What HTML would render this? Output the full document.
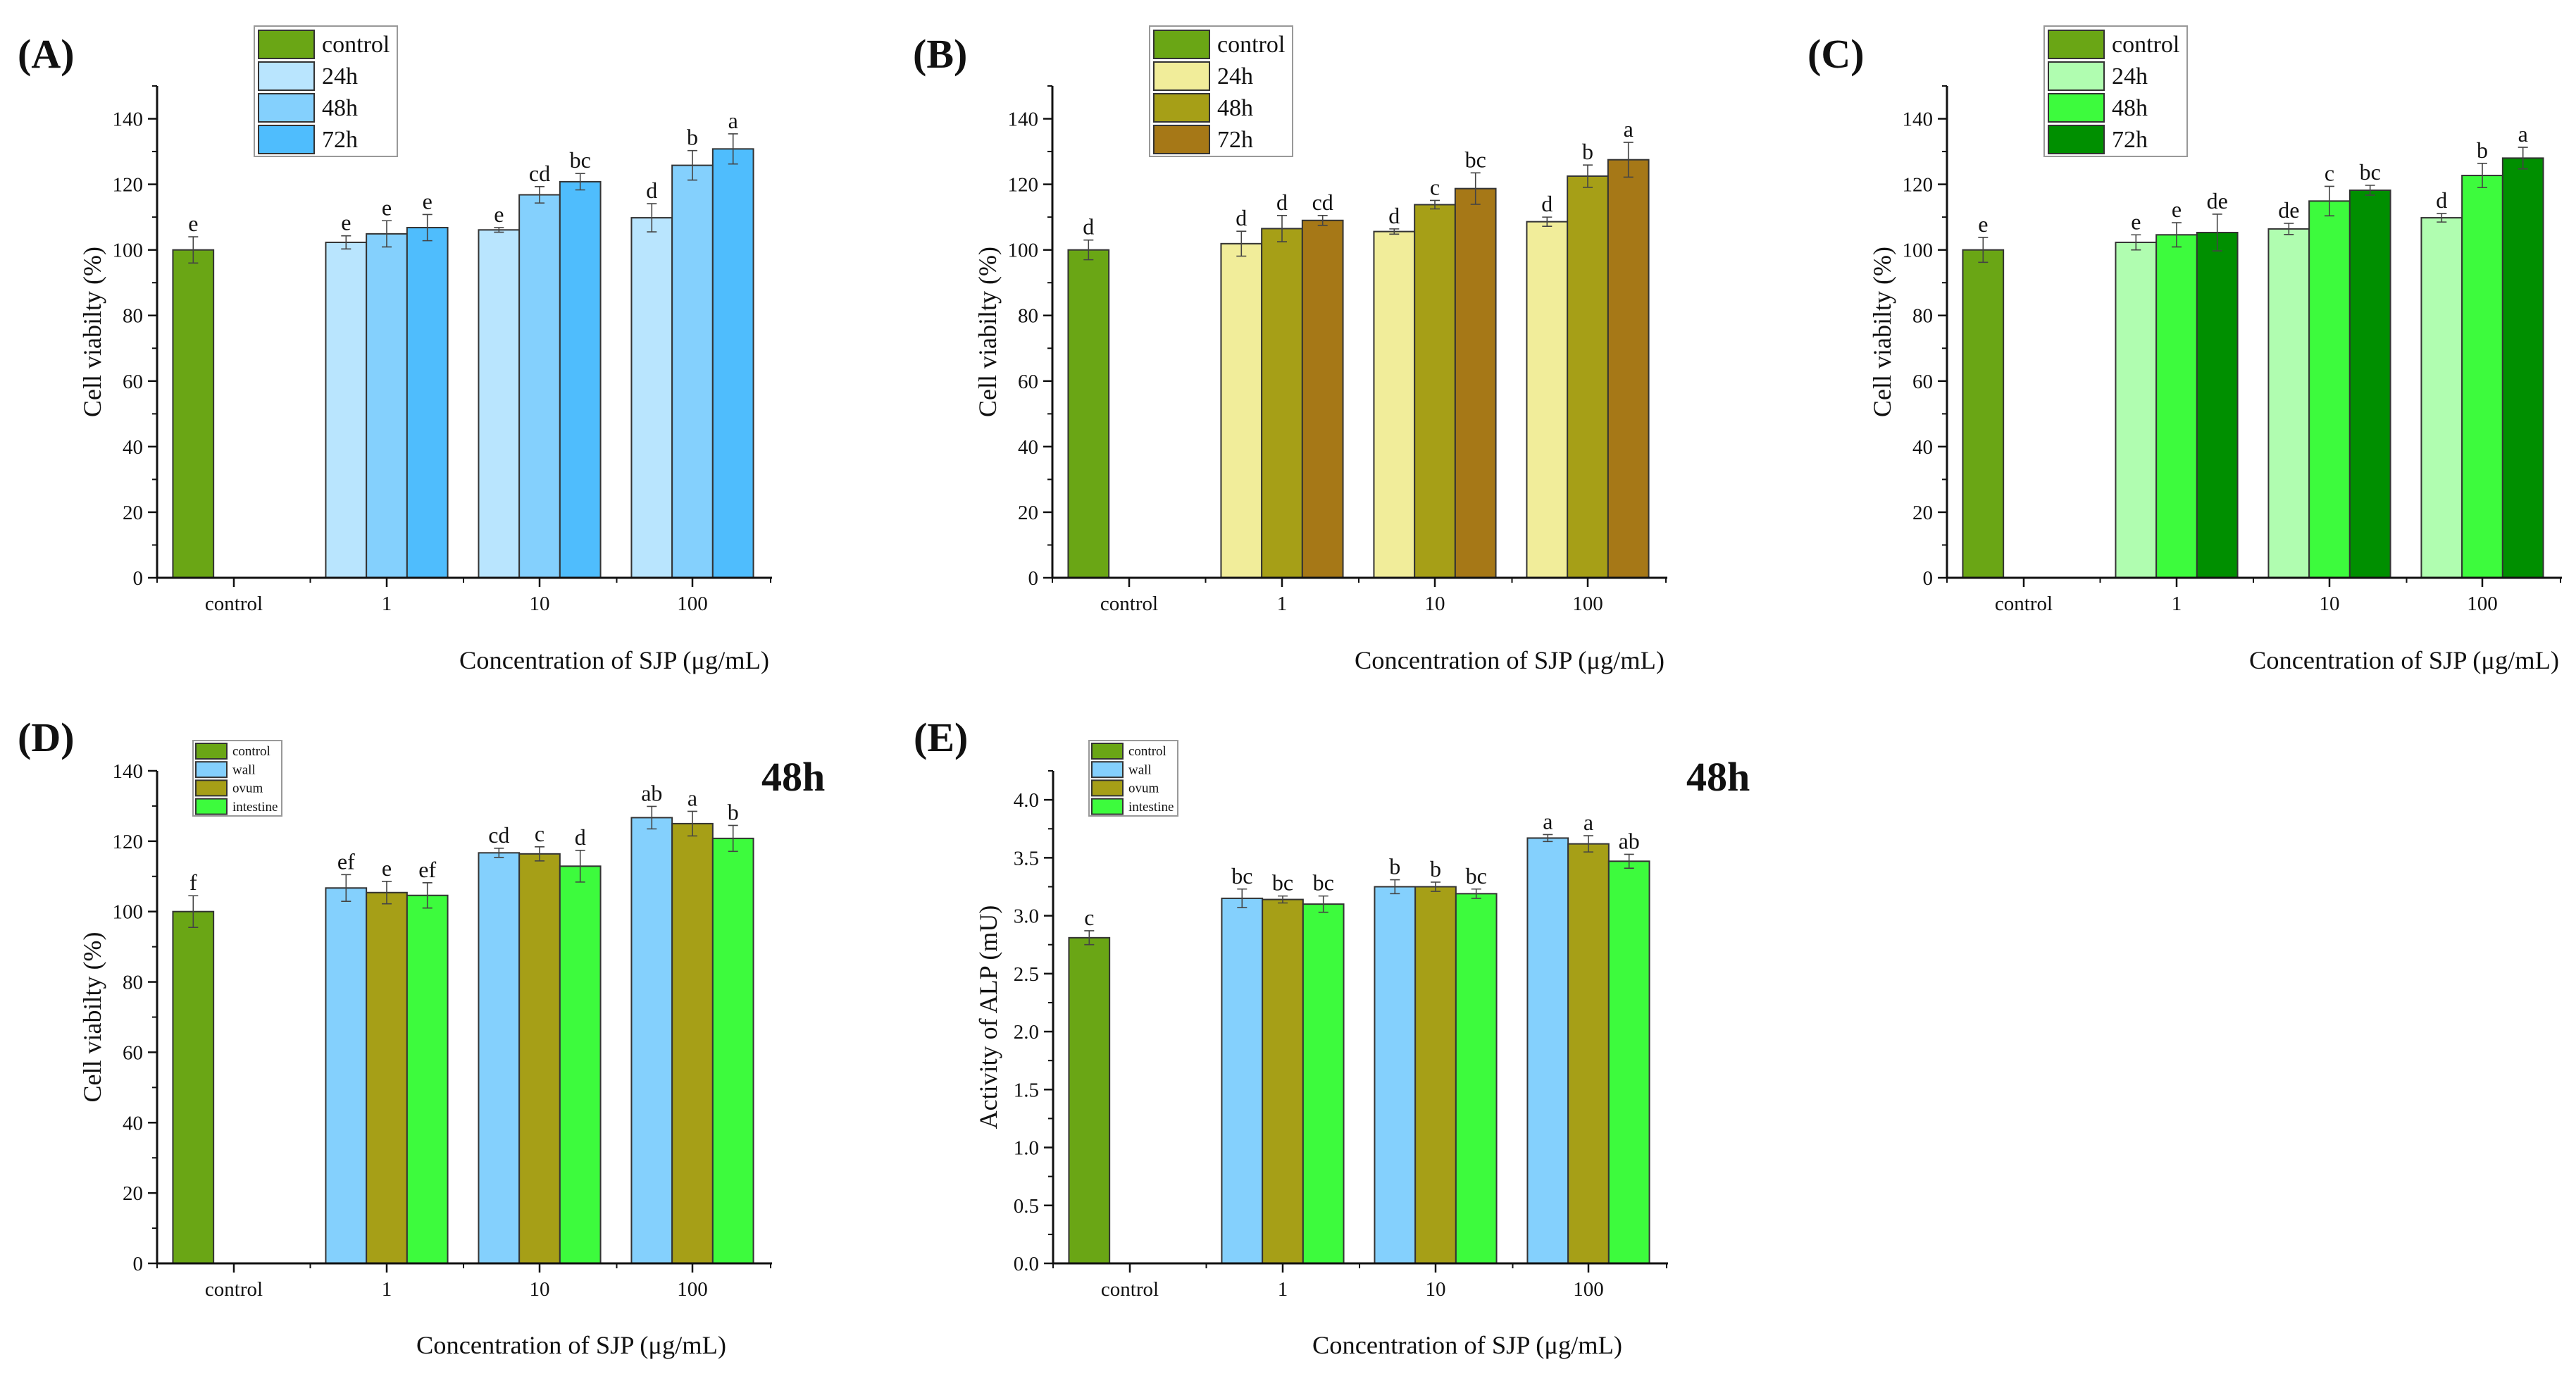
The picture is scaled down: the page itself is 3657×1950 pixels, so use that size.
<!DOCTYPE html>
<html><head><meta charset="utf-8">
<style>
html,body{margin:0;padding:0;background:#fff;}
svg{display:block;}
text{font-family:"Liberation Serif",serif;fill:#111;}
</style></head>
<body>
<svg id="fig" width="3657" height="1950" viewBox="0 0 3657 1950" xmlns="http://www.w3.org/2000/svg"></svg>
<script>
// ---- data ----
const categories = ["control","1","10","100"];
const controlA = 100, controlAErr = 4.0, controlALetter = "e";
const a24 = [102.3,106.1,109.8], a24Err=[2.0,0.7,4.3], a24L=["e","e","d"];
const a48 = [104.9,116.8,125.8], a48Err=[4.0,2.5,4.5], a48L=["e","cd","b"];
const a72 = [106.8,120.8,130.8], a72Err=[4.0,2.5,4.6], a72L=["e","bc","a"];

const controlB = 100, controlBErr = 3.0, controlBLetter = "d";
const b24 = [101.9,105.6,108.6], b24Err=[3.8,0.8,1.4], b24L=["d","d","d"];
const b48 = [106.5,113.8,122.5], b48Err=[4.0,1.3,3.4], b48L=["d","c","b"];
const b72 = [109.0,118.7,127.5], b72Err=[1.5,4.8,5.3], b72L=["cd","bc","a"];

const controlC = 100, controlCErr = 3.8, controlCLetter = "e";
const c24 = [102.3,106.4,109.8], c24Err=[2.3,1.7,1.3], c24L=["e","de","d"];
const c48 = [104.6,114.9,122.7], c48Err=[3.7,4.5,3.7], c48L=["e","c","b"];
const c72 = [105.3,118.2,128.0], c72Err=[5.6,1.5,3.3], c72L=["de","bc","a"];

const controlD = 100, controlDErr = 4.5, controlDLetter = "f";
const dWall = [106.7,116.7,126.7], dWallErr=[3.8,1.3,3.2], dWallL=["ef","cd","ab"];
const dOvum = [105.4,116.4,125.0], dOvumErr=[3.2,2.0,3.5], dOvumL=["e","c","a"];
const dInt  = [104.6,112.9,120.8], dIntErr=[3.6,4.5,3.7], dIntL=["ef","d","b"];

const controlE = 2.81, controlEErr = 0.06, controlELetter = "c";
const eWall = [3.15,3.25,3.67], eWallErr=[0.08,0.06,0.03], eWallL=["bc","b","a"];
const eOvum = [3.14,3.25,3.62], eOvumErr=[0.03,0.04,0.07], eOvumL=["bc","b","a"];
const eInt  = [3.10,3.19,3.47], eIntErr=[0.07,0.04,0.06], eIntL=["bc","bc","ab"];

const viabTicks = [0,20,40,60,80,100,120,140];
const alpTicks = [0,0.5,1.0,1.5,2.0,2.5,3.0,3.5,4.0];
const legendTime = ["control","24h","48h","72h"];
const legendTissue = ["control","wall","ovum","intestine"];

// ---- drawing ----
const NS="http://www.w3.org/2000/svg";
const svg=document.getElementById('fig');
function mk(tag,attrs,parent){const e=document.createElementNS(NS,tag);for(const k in attrs)e.setAttribute(k,attrs[k]);(parent||svg).appendChild(e);return e;}
const GREEN="#6aa615";

function panel(cfg){
  const g=mk('g',{});
  
  
  const ax=cfg.ax, y0=cfg.y0, unit=(cfg.y0-cfg.yTop)/cfg.vmax;
  const Y=v=>y0-v*unit;
  const cx=k=>ax+109+217*k;
  const bw=57.7;
  // panel label
  const lab=mk('text',{x:ax-198,y:cfg.labelY,'font-size':58,'font-weight':'bold'},g);lab.textContent=cfg.label;
  
  
  if(cfg.tag){const t=mk('text',{x:ax+cfg.tagX,y:cfg.labelY+56,'font-size':58,'font-weight':'bold'},g);t.textContent=cfg.tag;
    
    }
  function bar(xc,v,err,letter,color,nm){
    const r=mk('rect',{x:xc-bw/2,y:Y(v),width:bw,height:y0-Y(v),fill:color,stroke:'#333','stroke-width':2},g);
    
    
    const yt=Y(v+err), yb=Y(v-err);
    mk('path',{d:`M${xc},${yt}V${yb}M${xc-7},${yt}H${xc+7}M${xc-7},${yb}H${xc+7}`,stroke:'#444','stroke-width':1.6,fill:'none'},g);
    const t=mk('text',{x:xc,y:yt-8,'font-size':32,'text-anchor':'middle'},g);t.textContent=letter;
    
    
  }
  bar(cx(0)-bw,cfg.ctrl,cfg.ctrlErr,cfg.ctrlL,GREEN,'bar-control');
  cfg.series.forEach((s,i)=>{
    for(let k=0;k<3;k++) bar(cx(k+1)+(i-1)*bw,s.v[k],s.e[k],s.l[k],s.c,'bar-'+s.n+'-'+categories[k+1]);
  });
  // axes
  const yax=mk('line',{x1:ax,y1:cfg.yTop,x2:ax,y2:y0+1.5,stroke:'#111','stroke-width':3},g);
  
  
  const xax=mk('line',{x1:ax-1.5,y1:y0,x2:ax+873,y2:y0,stroke:'#111','stroke-width':3},g);
  
  
  cfg.ticks.forEach(v=>{
    mk('line',{x1:ax-13,y1:Y(v),x2:ax,y2:Y(v),stroke:'#111','stroke-width':2.5},g);
    const t=mk('text',{x:ax-20,y:Y(v)+10,'font-size':29,'text-anchor':'end'},g);
    t.textContent=cfg.dec?v.toFixed(1):String(v);
    
    
  });
  for(let v=cfg.minor;v<=cfg.vmax+1e-9;v+=cfg.minor*2){
    mk('line',{x1:ax-7,y1:Y(v),x2:ax,y2:Y(v),stroke:'#111','stroke-width':2},g);
  }
  categories.forEach((c,k)=>{
    mk('line',{x1:cx(k),y1:y0,x2:cx(k),y2:y0+13,stroke:'#111','stroke-width':2.5},g);
    mk('line',{x1:ax+217.5*k,y1:y0,x2:ax+217.5*k,y2:y0+7,stroke:'#111','stroke-width':2},g);
    const t=mk('text',{x:cx(k),y:y0+46,'font-size':29,'text-anchor':'middle'},g);t.textContent=c;
    
    
  });
  mk('line',{x1:ax+871,y1:y0,x2:ax+871,y2:y0+7,stroke:'#111','stroke-width':2},g);
  const xt=mk('text',{x:ax+cfg.xtEnd,y:cfg.xtY,'font-size':36,'text-anchor':'end',textLength:440,lengthAdjust:'spacingAndGlyphs'},g);
  xt.textContent="Concentration of SJP (\u03bcg/mL)";
  
  
  const ym=(y0+cfg.yTop)/2;
  const yt=mk('text',{x:0,y:0,'font-size':36,'text-anchor':'middle',transform:`translate(${ax-80},${ym}) rotate(-90)`},g);
  yt.textContent=cfg.ytitle;
  
  
  // legend
  const L=cfg.leg;
  const lg=mk('g',{},g);
  
  
  mk('rect',{x:ax+L.x,y:L.y,width:L.w,height:L.h,fill:'#fff',stroke:'#999','stroke-width':2},lg);
  const cols=[GREEN].concat(cfg.series.map(s=>s.c));
  cfg.legNames.forEach((n,i)=>{
    const ry=L.y+L.pad+i*L.pitch;
    mk('rect',{x:ax+L.x+L.pad,y:ry,width:L.sw,height:L.sh,fill:cols[i],stroke:'#333','stroke-width':2},lg);
    const t=mk('text',{x:ax+L.x+L.pad+L.sw+L.gap,y:ry+L.sh*0.78,'font-size':L.fs},lg);t.textContent=n;
    
    
  });
}
const topLeg={x:138,y:37,w:203,h:185,pad:6,pitch:45,sw:79,sh:40,gap:11,fs:34};
const botLeg={x:51,y:1051,w:126,h:107,pad:4,pitch:26.2,sw:44,sh:22,gap:8,fs:19};
const WALL="#84d0fd",OVUM="#a69f17",INT="#3dfb3d";
const topCommon={y0:820,yTop:122,vmax:150,ticks:viabTicks,minor:10,dec:false,labelY:96,xtEnd:869,xtY:949,ytitle:"Cell viabilty (%)",leg:topLeg,legNames:legendTime};
panel(Object.assign({},topCommon,{name:'panel-a',ax:223,label:'(A)',ctrl:controlA,ctrlErr:controlAErr,ctrlL:controlALetter,
 series:[{n:'24h',c:'#b9e5fe',v:a24,e:a24Err,l:a24L},{n:'48h',c:'#84d0fd',v:a48,e:a48Err,l:a48L},{n:'72h',c:'#4fbdfd',v:a72,e:a72Err,l:a72L}]}));
panel(Object.assign({},topCommon,{name:'panel-b',ax:1494,label:'(B)',ctrl:controlB,ctrlErr:controlBErr,ctrlL:controlBLetter,
 series:[{n:'24h',c:'#f1ed9a',v:b24,e:b24Err,l:b24L},{n:'48h',c:'#a69f17',v:b48,e:b48Err,l:b48L},{n:'72h',c:'#a67817',v:b72,e:b72Err,l:b72L}]}));
panel(Object.assign({},topCommon,{name:'panel-c',ax:2764,label:'(C)',ctrl:controlC,ctrlErr:controlCErr,ctrlL:controlCLetter,
 series:[{n:'24h',c:'#b0fdb0',v:c24,e:c24Err,l:c24L},{n:'48h',c:'#3dfb3d',v:c48,e:c48Err,l:c48L},{n:'72h',c:'#008f00',v:c72,e:c72Err,l:c72L}]}));
panel({name:'panel-d',ax:223,y0:1793,yTop:1094,vmax:140,ticks:viabTicks,minor:10,dec:false,labelY:1066,tag:'48h',tagX:858,xtEnd:808,xtY:1921,
 ytitle:"Cell viabilty (%)",leg:botLeg,legNames:legendTissue,label:'(D)',ctrl:controlD,ctrlErr:controlDErr,ctrlL:controlDLetter,
 series:[{n:'wall',c:WALL,v:dWall,e:dWallErr,l:dWallL},{n:'ovum',c:OVUM,v:dOvum,e:dOvumErr,l:dOvumL},{n:'intestine',c:INT,v:dInt,e:dIntErr,l:dIntL}]});
panel({name:'panel-e',ax:1495,y0:1793,yTop:1094,vmax:4.25,ticks:alpTicks,minor:0.25,dec:true,labelY:1066,tag:'48h',tagX:899,xtEnd:808,xtY:1921,
 ytitle:"Activity of ALP (mU)",leg:botLeg,legNames:legendTissue,label:'(E)',ctrl:controlE,ctrlErr:controlEErr,ctrlL:controlELetter,
 series:[{n:'wall',c:WALL,v:eWall,e:eWallErr,l:eWallL},{n:'ovum',c:OVUM,v:eOvum,e:eOvumErr,l:eOvumL},{n:'intestine',c:INT,v:eInt,e:eIntErr,l:eIntL}]});
</script>
</body></html>
